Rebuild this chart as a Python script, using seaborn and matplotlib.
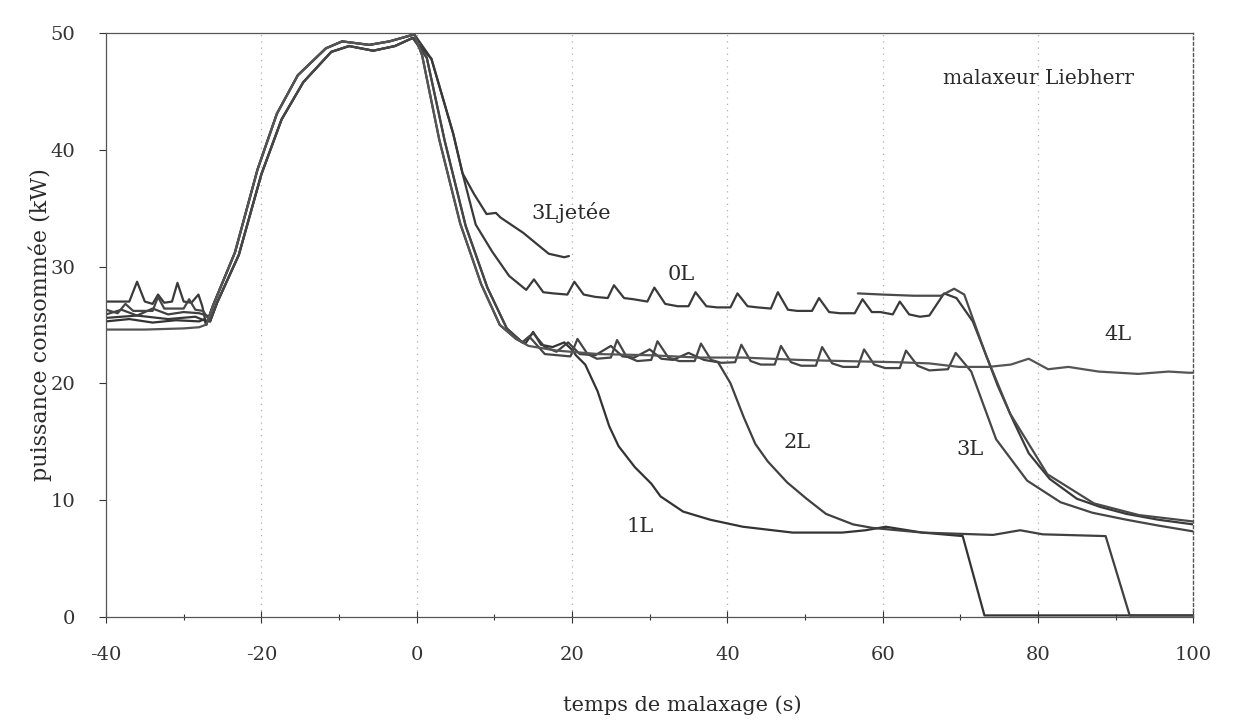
import matplotlib
matplotlib.use("Agg")
import matplotlib.pyplot as plt
import pandas as pd
import seaborn as sns
from matplotlib.ticker import MultipleLocator

# --- values (de-rotated by ~2 deg) ---
# shared rise / plateau, two edges of the band
rise_a_x = [-27.1, -26.2, -23.4, -20.5, -18.0, -15.3, -11.7, -9.6, -6.1, -3.5, -0.3]
rise_a_y = [25.0, 26.7, 31.2, 38.3, 43.1, 46.4, 48.7, 49.3, 49.0, 49.3, 49.9]
rise_b_x = [-26.6, -25.7, -22.9, -20.0, -17.4, -14.6, -11.0, -8.7, -5.6, -2.8, -0.5]
rise_b_y = [25.3, 26.9, 31.0, 37.9, 42.6, 45.8, 48.4, 48.9, 48.5, 48.9, 49.6]

# fall after the peak
fall_in_a_x = [0.7, 2.9, 5.6, 8.3, 10.7, 12.8]
fall_in_a_y = [48.1, 40.9, 33.7, 28.5, 25.0, 23.8]
fall_in_b_x = [1.3, 3.6, 6.3, 9.1, 11.6, 13.6]
fall_in_b_y = [47.9, 40.8, 33.5, 28.2, 24.7, 23.5]
fall_out_x = [1.9, 3.3, 4.7, 5.9]
fall_out_y = [47.8, 44.6, 41.4, 38.0]

# 0L
start_0l_x = [-40, -37, -36, -35, -34, -33.3, -32.5, -31.5, -30.8, -30, -29, -28.1, -27.6]
start_0l_y = [27.0, 27.0, 28.7, 27.0, 26.8, 27.6, 26.9, 27.0, 28.6, 27.0, 26.9, 27.6, 26.6]
tail_0l_x = [7.6, 9.7, 11.9, 14.1, 15.1, 16.3, 17.6, 19.4, 20.3, 21.5, 23.0, 24.6, 25.4,
             26.7, 27.9, 29.7, 30.6, 32.0, 33.6, 35.0, 35.9, 37.3, 38.7, 40.4, 41.3, 42.6,
             43.9, 45.6, 46.5, 47.8, 49.0, 50.9, 51.8, 53.1, 54.5, 56.4, 57.4, 58.6, 59.7,
             61.3, 62.2, 63.4, 64.8, 66.0, 67.9, 69.5, 71.6, 73.2, 74.8, 76.8, 78.8, 81.5,
             85.0, 88.0, 91.4, 95.5, 100.0]
tail_0l_y = [33.6, 31.3, 29.2, 28.0, 28.9, 27.8, 27.7, 27.6, 28.7, 27.6, 27.4, 27.3, 28.4,
             27.3, 27.2, 27.0, 28.2, 26.8, 26.6, 26.6, 27.8, 26.6, 26.5, 26.5, 27.7, 26.6,
             26.5, 26.4, 27.8, 26.3, 26.2, 26.2, 27.3, 26.1, 26.0, 26.0, 27.2, 26.1, 26.1,
             25.9, 27.0, 25.9, 25.7, 25.8, 27.7, 27.3, 25.3, 22.6, 19.8, 16.8, 14.0, 11.8,
             10.1, 9.4, 8.8, 8.3, 7.9]

# 3L jetee
start_3lj_x = [-40, -36, -32, -28.5, -27.4]
start_3lj_y = [25.6, 25.8, 25.5, 25.7, 25.4]
tail_3lj_x = [7.4, 9.0, 10.2, 10.8, 13.7, 17.0, 19.0, 19.6]
tail_3lj_y = [36.2, 34.5, 34.6, 34.2, 32.9, 31.1, 30.8, 30.9]

# 1L
start_1l_x = [-40, -37, -34, -31, -28, -27.3]
start_1l_y = [25.3, 25.5, 25.2, 25.4, 25.3, 25.5]
tail_1l_x = [14.0, 15.0, 16.0, 17.5, 19.0, 20.1, 20.5, 21.7, 23.3, 24.8, 26.0, 28.1, 30.2,
             31.4, 34.3, 37.8, 42.0, 48.4, 54.8, 57.8, 60.4, 65.1, 70.3, 73.1, 80.0, 91.8, 100.0]
tail_1l_y = [23.4, 24.4, 23.3, 23.1, 23.5, 22.8, 22.4, 21.6, 19.3, 16.3, 14.6, 12.8, 11.4,
             10.3, 9.0, 8.3, 7.7, 7.2, 7.2, 7.4, 7.7, 7.2, 6.9, 0.1, 0.1, 0.1, 0.1]

# 2L
start_2l_x = [-40, -38, -36, -34, -32, -30, -28, -27.0]
start_2l_y = [25.9, 26.3, 25.8, 26.4, 25.9, 26.1, 26.0, 25.8]
tail_2l_x = [15.0, 16.5, 18.0, 19.5, 21.0, 23.0, 25.0, 26.5, 28.0, 30.0, 31.5, 33.0, 35.0,
             37.0, 38.8, 40.4, 42.1, 43.6, 45.2, 47.7, 50.2, 52.7, 56.2, 58.7, 65.1, 74.2,
             77.7, 80.6, 88.7, 91.8, 100.0]
tail_2l_y = [24.3, 23.1, 22.7, 23.5, 22.5, 22.4, 23.2, 22.3, 22.2, 22.9, 22.1, 22.0, 22.6,
             22.0, 21.8, 20.0, 17.1, 14.8, 13.3, 11.5, 10.1, 8.8, 7.9, 7.6, 7.2, 7.0,
             7.4, 7.05, 6.9, 0.1, 0.1]

# 3L
start_3l_x = [-40, -38.5, -37.5, -36.5, -34, -33.3, -32.5, -30, -29.3, -28.5, -27.5]
start_3l_y = [26.3, 26.0, 26.8, 26.2, 26.2, 27.4, 26.4, 26.4, 27.2, 26.3, 26.2]
tail_3l_x = [14.5, 16.5, 19.8, 20.7, 22.0, 23.2, 25.0, 25.8, 27.0, 28.4, 30.2, 31.0, 32.4,
             33.8, 35.8, 36.6, 37.9, 39.2, 41.0, 41.8, 43.0, 44.3, 46.1, 46.9, 48.2, 49.5,
             51.4, 52.2, 53.5, 54.9, 56.8, 57.6, 58.9, 60.3, 62.2, 63.0, 64.5, 66.0, 68.4,
             69.4, 71.4, 74.6, 78.6, 82.9, 87.0, 91.4, 95.5, 100.0]
tail_3l_y = [24.0, 22.5, 22.3, 23.8, 22.5, 22.1, 22.2, 23.7, 22.3, 21.9, 22.0, 23.6, 22.2,
             21.9, 21.9, 23.4, 22.0, 21.75, 21.8, 23.3, 21.9, 21.6, 21.6, 23.2, 21.8, 21.5,
             21.5, 23.1, 21.7, 21.4, 21.4, 22.9, 21.6, 21.3, 21.3, 22.8, 21.5, 21.1, 21.2,
             22.6, 21.0, 15.2, 11.65, 9.8, 8.9, 8.3, 7.8, 7.3]

# 4L
start_4l_x = [-40, -35, -30, -28, -27.2]
start_4l_y = [24.6, 24.6, 24.7, 24.8, 25.0]
tail_4l_x = [14.4, 18.0, 23.4, 30.0, 36.3, 42.0, 49.2, 55.0, 62.0, 66.0, 69.8, 73.6, 76.5,
             78.8, 81.3, 83.9, 87.8, 92.9, 96.8, 99.4, 100.0]
tail_4l_y = [23.2, 22.8, 22.5, 22.4, 22.2, 22.2, 22.0, 21.9, 21.8, 21.7, 21.4, 21.4, 21.6,
             22.1, 21.2, 21.4, 21.0, 20.8, 21.0, 20.9, 20.9]

# short second 3L run starting late
bis_x = [56.8, 60.0, 64.0, 67.5, 69.2, 70.5, 73.3, 76.4, 81.2, 87.2, 93.0, 100.0]
bis_y = [27.7, 27.6, 27.5, 27.5, 28.1, 27.6, 22.4, 17.4, 12.2, 9.7, 8.7, 8.15]

# curve labels (text, x, y)
label_text = ["3Ljetée", "0L", "2L", "3L", "1L", "4L"]
label_x = [19.9, 34.1, 49.0, 71.3, 28.7, 90.3]
label_y = [34.6, 29.3, 14.9, 14.3, 7.7, 24.2]

series = {
    "0L": (start_0l_x + rise_a_x + fall_out_x + tail_0l_x,
           start_0l_y + rise_a_y + fall_out_y + tail_0l_y),
    "3Ljetée": (start_3lj_x + rise_b_x + fall_out_x + tail_3lj_x,
                start_3lj_y + rise_b_y + fall_out_y + tail_3lj_y),
    "1L": (start_1l_x + rise_a_x + fall_in_a_x + tail_1l_x,
           start_1l_y + rise_a_y + fall_in_a_y + tail_1l_y),
    "2L": (start_2l_x + rise_b_x + fall_in_b_x + tail_2l_x,
           start_2l_y + rise_b_y + fall_in_b_y + tail_2l_y),
    "3L": (start_3l_x + rise_b_x + fall_in_b_x + tail_3l_x,
           start_3l_y + rise_b_y + fall_in_b_y + tail_3l_y),
    "4L": (start_4l_x + rise_a_x + fall_in_a_x + tail_4l_x,
           start_4l_y + rise_a_y + fall_in_a_y + tail_4l_y),
    "3Lbis": (bis_x, bis_y),
}

rows = []
for name, (xs, ys) in series.items():
    for x, y in zip(xs, ys):
        rows.append((x, y, name))
df = pd.DataFrame(rows, columns=["temps", "puissance", "essai"])

colors = {"0L": "#3a3a3a", "3Ljetée": "#383838", "1L": "#333333", "2L": "#404040",
          "3L": "#464646", "4L": "#555555", "3Lbis": "#4a4a4a"}

sns.set_theme(style="white")
plt.rcParams["font.family"] = ["DejaVu Serif"]
plt.rcParams["axes.unicode_minus"] = False

fig = plt.figure(figsize=(12.47, 7.22), dpi=100)
ax = fig.add_axes([0.085, 0.146, 0.872, 0.808])

sns.lineplot(data=df, x="temps", y="puissance", hue="essai", palette=colors,
             estimator=None, sort=False, legend=False, linewidth=1.6, ax=ax)

ax.set_xlim(-40, 100)
ax.set_ylim(0, 50)
ax.xaxis.set_major_locator(MultipleLocator(20))
ax.xaxis.set_minor_locator(MultipleLocator(10))
ax.yaxis.set_major_locator(MultipleLocator(10))

# dotted vertical grid
for gx in range(-20, 100, 20):
    ax.axvline(gx, color="#b0b0b0", lw=0.9, ls=(0, (1, 4)), zorder=0)

for side in ["left", "bottom", "top"]:
    ax.spines[side].set_color("#555555")
    ax.spines[side].set_linewidth(0.9)
ax.spines["right"].set_color("#555555")
ax.spines["right"].set_linewidth(1.0)
ax.spines["right"].set_linestyle((0, (2, 2)))

ax.tick_params(axis="x", which="major", bottom=True, direction="inout", length=8,
               width=0.8, pad=17, labelsize=14, colors="#333333")
ax.tick_params(axis="x", which="minor", bottom=True, direction="inout", length=5, width=0.8,
               colors="#333333")
ax.tick_params(axis="y", left=True, direction="out", length=5, width=0.8, pad=17,
               labelsize=14, colors="#333333")

ax.set_xlabel("temps de malaxage (s)", fontsize=15, color="#2b2b2b")
ax.xaxis.set_label_coords(0.53, -0.135)
ax.set_ylabel("puissance consommée (kW)", fontsize=16, color="#2b2b2b")
ax.yaxis.set_label_coords(-0.05, 0.5)

for t, x, y in zip(label_text, label_x, label_y):
    ax.text(x, y, t, fontsize=15, color="#2b2b2b", ha="center", va="center")
ax.text(80.1, 46.1, "malaxeur Liebherr", fontsize=14.5, color="#2b2b2b",
        ha="center", va="center")

fig.savefig("out.png", dpi=100)
